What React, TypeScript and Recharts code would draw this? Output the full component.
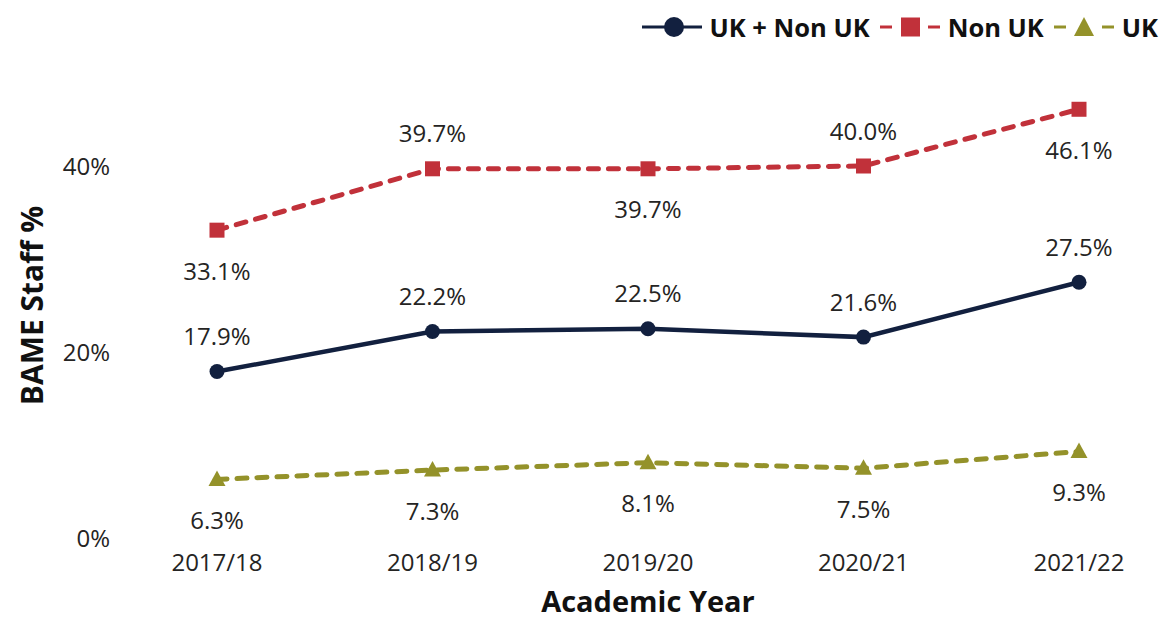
import { Label, LabelList, Line, LineChart, XAxis, YAxis } from "recharts";

const years = ["2017/18", "2018/19", "2019/20", "2020/21", "2021/22"];
const allStaff = [17.9, 22.2, 22.5, 21.6, 27.5];
const nonUk = [33.1, 39.7, 39.7, 40.0, 46.1];
const uk = [6.3, 7.3, 8.1, 7.5, 9.3];
const yTicks = [0, 20, 40];

const NAVY = "#12203f";
const RED = "#c1313a";
const OLIVE = "#94922a";
const TEXT = "#252423";
const FONT = "'Open Sans', 'Noto Sans', sans-serif";

const data = years.map((year, i) => ({
  year,
  all: allStaff[i],
  nonUk: nonUk[i],
  uk: uk[i],
}));

const fmt = (v: number) => `${v.toFixed(1)}%`;

function makeLabel(side: (i: number) => "above" | "below") {
  return (props: any) => {
    const { x, y, value, index } = props;
    const above = side(index) === "above";
    return (
      <text
        x={x}
        y={above ? y - 36 : y + 40}
        textAnchor="middle"
        dominantBaseline="central"
        fontSize={24}
        fontFamily={FONT}
        fill={TEXT}
      >
        {fmt(value)}
      </text>
    );
  };
}

const CircleDot = (props: any) => {
  const { cx, cy, index } = props;
  return <circle key={`c${index}`} cx={cx} cy={cy} r={7.5} fill={NAVY} />;
};

const SquareDot = (props: any) => {
  const { cx, cy, index } = props;
  return <rect key={`s${index}`} x={cx - 7.5} y={cy - 7.5} width={15} height={15} fill={RED} />;
};

const TriangleDot = (props: any) => {
  const { cx, cy, index } = props;
  return (
    <path
      key={`t${index}`}
      d={`M${cx},${cy - 9} L${cx + 8.5},${cy + 6.5} L${cx - 8.5},${cy + 6.5} Z`}
      fill={OLIVE}
    />
  );
};

function LegendIcon({ kind }: { kind: "circle" | "square" | "triangle" }) {
  if (kind === "circle") {
    return (
      <svg width={60} height={24} style={{ display: "block" }}>
        <line x1={0} y1={12} x2={60} y2={12} stroke={NAVY} strokeWidth={3} />
        <circle cx={32} cy={12} r={10} fill={NAVY} />
      </svg>
    );
  }
  const color = kind === "square" ? RED : OLIVE;
  return (
    <svg width={60} height={24} style={{ display: "block" }}>
      <line x1={0} y1={12} x2={12} y2={12} stroke={color} strokeWidth={3} />
      <line x1={48} y1={12} x2={60} y2={12} stroke={color} strokeWidth={3} />
      {kind === "square" ? (
        <rect x={21} y={2.5} width={19} height={19} fill={color} />
      ) : (
        <path d="M30,2 L40,21 L20,21 Z" fill={color} />
      )}
    </svg>
  );
}

function ChartLegend() {
  const items: { name: string; kind: "circle" | "square" | "triangle" }[] = [
    { name: "UK + Non UK", kind: "circle" },
    { name: "Non UK", kind: "square" },
    { name: "UK", kind: "triangle" },
  ];
  return (
    <div
      style={{
        position: "absolute",
        top: 13,
        right: 3,
        display: "flex",
        alignItems: "center",
        fontFamily: FONT,
      }}
    >
      {items.map((it, i) => (
        <div key={it.name} style={{ display: "flex", alignItems: "center", marginLeft: i ? 10 : 0 }}>
          <LegendIcon kind={it.kind} />
          <span style={{ marginLeft: 8, fontWeight: 700, fontSize: 25.5, color: "#111", lineHeight: "28px" }}>
            {it.name}
          </span>
        </div>
      ))}
    </div>
  );
}

export default function App() {
  return (
    <div style={{ position: "relative", width: 1161, height: 619, background: "#fff" }}>
      <style>{"body{margin:0}"}</style>
      <LineChart width={1161} height={619} data={data} margin={{ top: 73, right: 21, bottom: 0, left: 0 }}>
        <XAxis
          dataKey="year"
          axisLine={false}
          tickLine={false}
          tickSize={0}
          tickMargin={16}
          height={81}
          padding={{ left: 97, right: 61 }}
          tick={{ fontSize: 24, fontFamily: FONT, fill: TEXT }}
        >
          <Label
            value="Academic Year"
            position="insideBottom"
            offset={7}
            dx={18}
            style={{ fontSize: 29, fontWeight: 700, fontFamily: FONT, fill: "#111" }}
          />
        </XAxis>
        <YAxis
          domain={[0, 50]}
          ticks={yTicks}
          axisLine={false}
          tickLine={false}
          tickSize={0}
          tickMargin={10}
          width={120}
          tickFormatter={(v) => `${v}%`}
          tick={{ fontSize: 24, fontFamily: FONT, fill: TEXT }}
        >
          <Label
            content={(props: any) => {
              const vb = props.viewBox || {};
              const cy = (vb.y ?? 73) + (vb.height ?? 465) / 2;
              return (
                <text
                  x={31}
                  y={cy}
                  transform={`rotate(-90, 31, ${cy})`}
                  textAnchor="middle"
                  dominantBaseline="central"
                  fontSize={30}
                  fontWeight={700}
                  fontFamily={FONT}
                  fill="#111"
                >
                  BAME Staff %
                </text>
              );
            }}
          />
        </YAxis>
        <Line
          dataKey="nonUk"
          name="Non UK"
          stroke={RED}
          strokeWidth={5}
          strokeLinecap="round"
          strokeDasharray="10 10"
          dot={SquareDot}
          activeDot={false}
          isAnimationActive={false}
        >
          <LabelList dataKey="nonUk" content={makeLabel((i) => (i % 2 === 0 ? "below" : "above"))} />
        </Line>
        <Line
          dataKey="all"
          name="UK + Non UK"
          stroke={NAVY}
          strokeWidth={4.5}
          dot={CircleDot}
          activeDot={false}
          isAnimationActive={false}
        >
          <LabelList dataKey="all" content={makeLabel(() => "above")} />
        </Line>
        <Line
          dataKey="uk"
          name="UK"
          stroke={OLIVE}
          strokeWidth={5}
          strokeLinecap="round"
          strokeDasharray="10 10"
          dot={TriangleDot}
          activeDot={false}
          isAnimationActive={false}
        >
          <LabelList dataKey="uk" content={makeLabel(() => "below")} />
        </Line>
      </LineChart>
      <ChartLegend />
    </div>
  );
}
